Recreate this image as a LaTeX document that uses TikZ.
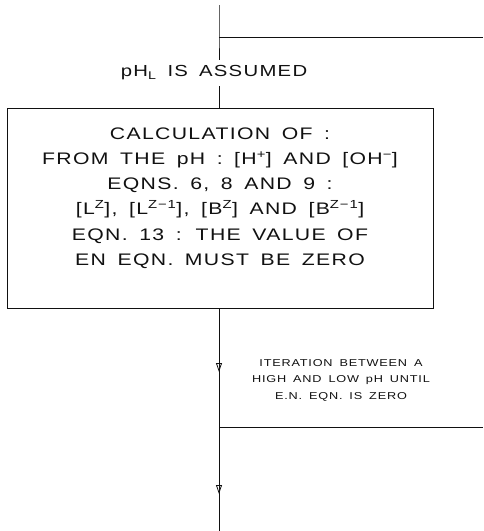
\documentclass[tikz,border=0pt]{standalone}
\usepackage{fontspec}
\usetikzlibrary{arrows.meta,positioning}
\newfontfamily\plotfont[FakeStretch=1.27,LetterSpace=8,WordSpace=1.6]{Liberation Sans}
\definecolor{FlowInk}{HTML}{111111}
\tikzset{>=Stealth,flowline/.style={draw=FlowInk,line width=.8pt},
 calcbox/.style={draw=FlowInk,line width=.8pt,minimum width=426pt,minimum height=200pt,
 align=center,inner sep=0pt,text=FlowInk,font=\plotfont\fontsize{16.7}{25.2}\selectfont},
 stepnote/.style={align=center,inner sep=0pt,text=FlowInk,font=\plotfont\fontsize{10}{16.5}\selectfont},
 midarr/.style={draw=FlowInk,line width=.8pt,-{Triangle[open,length=9pt,width=6pt]}}}

\begin{document}
\begin{tikzpicture}[x=1pt,y=-1pt]
\useasboundingbox (0,0) rectangle (483,531);
\coordinate (top) at (219,5);
\coordinate (j1) at (219,37);
\coordinate (loopin) at (483,37);
\node[font=\plotfont\fontsize{16}{20}\selectfont,inner sep=0pt,text=FlowInk] (assume) at (214,73) {pH\textsubscript{L} IS ASSUMED};
\node[calcbox] (calc) at (220,208) {CALCULATION OF :\\ FROM THE pH : [H\textsuperscript{+}] AND [OH\textsuperscript{−}]\\
 EQNS. 6, 8 AND 9 :\\ {[}L\textsuperscript{Z}], [L\textsuperscript{Z−1}], [B\textsuperscript{Z}] AND [B\textsuperscript{Z−1}]\\
 EQN. 13 : THE VALUE OF\\ EN EQN. MUST BE ZERO\\[-2pt]};
\node[stepnote] (iter) at (341,380) {ITERATION BETWEEN A\\ HIGH AND LOW pH UNTIL\\ E.N. EQN. IS ZERO};
\coordinate (a1) at (219,372);
\coordinate (a2) at (219,494);
\coordinate (j2) at (219,427);
\coordinate (loopout) at (483,427);
\coordinate (bottom) at (219,531);
% main flow
\draw[flowline] (top) -- (j1) -- ([yshift=6pt]assume.north -| j1);
\draw[flowline] (j1) -- (loopin);
\draw[flowline] ([yshift=-6pt]assume.south -| j1) -- (calc.north -| j1);
\draw[flowline] (calc.south -| j1) -- (bottom);
\draw[flowline] (j2) -- (loopout);
\draw[midarr] ([yshift=12pt]a1) -- (a1);
\draw[midarr] ([yshift=12pt]a2) -- (a2);
\end{tikzpicture}
\end{document}
